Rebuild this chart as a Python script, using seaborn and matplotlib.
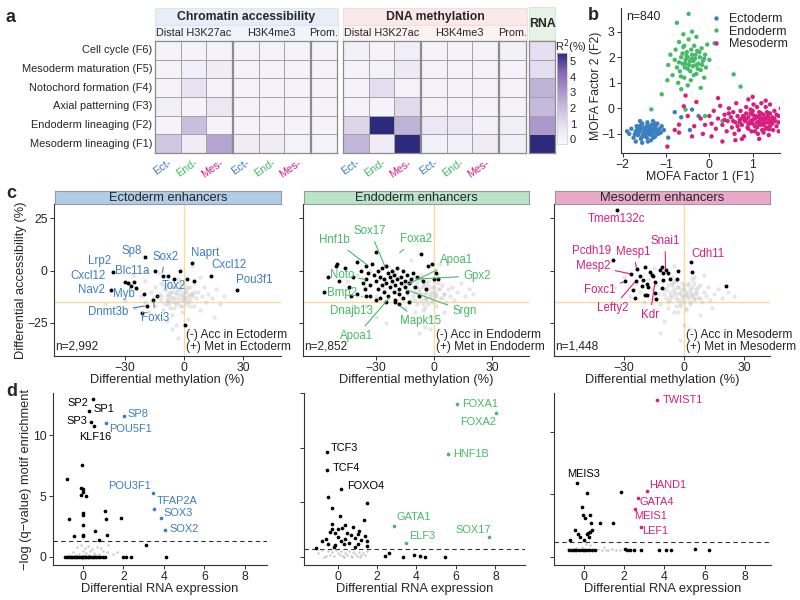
import numpy as np
import pandas as pd
import matplotlib
matplotlib.use("Agg")
import matplotlib.pyplot as plt
import seaborn as sns
from matplotlib.colors import LinearSegmentedColormap
from matplotlib.patches import Rectangle

sns.set_style("ticks")
plt.rcParams['font.family'] = ['Liberation Sans', 'DejaVu Sans']
plt.rcParams['axes.unicode_minus'] = True

ECT = '#3b7fc1'
END = '#45bb68'
MES = '#d81f7e'

# ---------------- panel a: variance explained (R2 %) ----------------
factors = ["Cell cycle (F6)", "Mesoderm maturation (F5)", "Notochord formation (F4)",
           "Axial patterning (F3)", "Endoderm lineaging (F2)", "Mesoderm lineaging (F1)"]
acc_r2 = [[0.05, 0.05, 0.05, 0.05, 0.05, 0.05, 0.05],
          [0.05, 0.3, 0.4, 0.05, 0.05, 0.05, 0.05],
          [0.05, 0.8, 0.05, 0.05, 0.05, 0.05, 0.05],
          [0.3, 0.05, 0.6, 0.05, 0.05, 0.05, 0.05],
          [0.05, 2.0, 0.05, 0.05, 0.05, 0.05, 0.05],
          [1.7, 0.4, 2.7, 0.4, 0.4, 0.1, 0.1]]
met_r2 = [[0.2, 0.05, 0.3, 0.05, 0.05, 0.05, 0.2],
          [0.05, 0.15, 0.5, 0.05, 0.05, 0.05, 0.05],
          [0.05, 1.0, 0.05, 0.05, 0.05, 0.05, 0.05],
          [0.05, 0.05, 1.1, 0.05, 0.05, 0.05, 0.05],
          [1.2, 5.5, 2.3, 0.6, 0.6, 0.2, 0.3],
          [2.2, 0.4, 5.5, 0.2, 0.2, 0.4, 0.3]]
rna_r2 = [0.9, 1.0, 2.3, 2.1, 3.0, 5.5]
lineage_short = ["Ect-", "End-", "Mes-"]

# ---------------- panel b: MOFA factors ----------------
b_ect_x = [-1.85, -1.8, -1.75, -1.7, -1.68, -1.65, -1.6, -1.58, -1.55, -1.52, -1.5, -1.48, -1.45, -1.43,
           -1.4, -1.38, -1.35, -1.33, -1.3, -1.28, -1.25, -1.22, -1.2, -1.18, -1.15, -1.12, -1.1, -1.55,
           -1.7, -1.9, -1.42, -1.3, -1.05, -0.95, -0.65, -0.4, -0.45, -0.25, -0.8, -1.6,
           -1.62, -1.57, -1.53, -1.47, -1.44, -1.41, -1.37, -1.34, -1.31, -1.27, -1.24, -1.21, -1.5,
           -1.46, -1.39, -1.36, -1.66, -1.72, -1.29, -1.19, -1.56, -1.43, -1.6, -1.33, -1.26]
b_ect_y = [-1.0, -0.8, -1.15, -0.9, -0.7, -1.05, -0.85, -1.2, -0.6, -0.95, -0.75, -1.1, -0.9, -0.55,
           -1.0, -0.8, -1.25, -0.65, -0.95, -0.75, -1.1, -0.85, -0.6, -1.0, -0.8, -0.95, -0.7, -1.35,
           -1.3, -0.9, -1.3, -0.5, -0.85, -1.15, -0.35, -0.05, -0.85, -0.3, -0.15, -0.5,
           -0.95, -0.78, -1.05, -0.82, -1.15, -0.7, -0.92, -1.05, -0.82, -0.9, -0.7, -1.0, -0.88,
           -0.98, -0.86, -0.75, -0.8, -1.02, -1.15, -0.88, -1.12, -0.65, -0.68, -0.95, -0.6]
b_end_x = [-0.85, -0.8, -0.78, -0.75, -0.72, -0.7, -0.68, -0.65, -0.62, -0.6, -0.58, -0.55, -0.52, -0.5,
           -0.48, -0.45, -0.43, -0.4, -0.38, -0.35, -0.33, -0.3, -0.28, -0.25, -0.22, -0.2, -0.18, -0.15,
           -0.12, -0.1, -0.08, -0.05, 0.0, -0.9, -0.95, -0.6, -0.4, -0.3, -0.5, -0.2, -0.75, -0.48, 0.12,
           0.56, 0.72, -0.97, -1.34, -0.55, -0.1, 0.3, -1.1, -0.65,
           -0.7, -0.62, -0.57, -0.53, -0.47, -0.42, -0.37, -0.32, -0.27, -0.23, -0.44, -0.58, -0.36,
           -0.66, -0.17, -0.5, -0.4, -0.3, -0.55, -0.12]
b_end_y = [1.3, 1.9, 2.3, 1.6, 1.0, 2.6, 1.45, 2.0, 1.75, 2.4, 1.2, 1.9, 2.2, 1.55,
           2.7, 1.85, 1.1, 2.1, 1.65, 2.45, 1.95, 1.35, 2.25, 1.75, 2.0, 1.5, 2.35, 1.85,
           1.2, 2.1, 1.6, 2.5, 1.9, 2.1, 1.7, 2.9, 3.0, 2.8, 0.9, 0.8, 3.35, 3.7, 2.55,
           1.33, 0.85, 1.1, -0.04, -0.05, -0.3, -0.5, 0.55, 0.75,
           1.8, 2.15, 1.6, 2.05, 1.7, 2.3, 1.85, 2.1, 1.55, 2.2, 1.45, 2.45, 1.3,
           1.25, 1.7, 2.0, 1.95, 1.7, 1.75, 1.95]
b_mes_x = [0.0, 0.05, 0.1, 0.15, 0.2, 0.25, 0.3, 0.35, 0.4, 0.42, 0.45, 0.5, 0.52, 0.55, 0.58, 0.6,
           0.62, 0.65, 0.68, 0.7, 0.72, 0.75, 0.78, 0.8, 0.82, 0.85, 0.88, 0.9, 0.92, 0.95, 0.97, 1.0,
           1.02, 1.05, 1.07, 1.1, 1.12, 1.15, 1.17, 1.2, 1.22, 1.25, 1.27, 1.3, 1.32, 1.35, 1.37, 1.4,
           1.42, 1.45, 1.47, 1.5, 1.52, 1.55, 1.6, 1.65, 1.3, 0.9, 1.15, 0.75, 1.0, 1.6, 1.2, 0.3,
           -0.2, -0.35, -0.5, -0.7, -0.59, -0.97, -0.8, -0.4, -0.15, 0.05, -0.55, -0.3, -0.7, 0.2,
           -0.1, 1.4, 0.95, 1.25, 0.6, 1.1, 0.85,
           0.95, 1.0, 1.05, 1.1, 1.15, 1.2, 1.25, 1.3, 1.35, 1.4, 1.45, 1.5, 0.85, 0.9, 0.8, 1.0,
           1.1, 1.2, 1.3, 1.4, 1.55, 1.6, 0.7, 0.75, 0.65, 1.05, 1.15, 1.25, 1.35, 1.45, 0.9, 1.0,
           1.12, 1.28, 1.38, 0.55, 0.45, 0.35, 1.18, 1.33]
b_mes_y = [-0.3, -0.6, -0.1, -0.8, -0.4, 0.1, -0.65, -0.25, -0.9, -0.5, 0.0, -0.35, -0.75, -0.15, -1.0, -0.55,
           0.2, -0.3, -0.85, -0.45, -0.1, -0.65, -0.3, -1.1, -0.5, 0.05, -0.75, -0.35, -0.6, -0.2, -0.9, -0.45,
           0.15, -0.7, -0.3, -0.55, -1.0, -0.15, -0.65, -0.4, -0.85, -0.25, -0.55, 0.05, -0.75, -0.4, -1.05, -0.2,
           -0.6, -0.35, -0.85, -0.1, -0.5, -0.7, -0.3, 0.0, 0.3, 0.35, -1.2, -1.2, 0.45, -0.9, 0.2, -1.3,
           -0.4, -0.7, -0.3, -0.64, 0.08, -1.5, -0.85, -1.1, -1.0, -1.1, 0.5, 0.25, -0.95, 0.4,
           -0.65, 0.15, -0.05, -0.95, -1.25, 0.05, -0.2,
           -0.5, -0.6, -0.4, -0.35, -0.5, -0.6, -0.45, -0.55, -0.3, -0.5, -0.6, -0.4, -0.45, -0.6, -0.35, -0.25,
           -0.75, -0.2, -0.8, -0.7, -0.25, -0.55, -0.55, -0.4, -0.7, -0.9, -0.3, -0.65, -0.55, -0.45, -0.8, -0.1,
           -0.58, -0.38, -0.82, -0.5, -0.2, -0.45, -0.42, -0.15]

# ---------------- panel c: enhancer accessibility vs methylation ----------------
c_ect_gray_x = [-35, -30, -28, -25, -24, -22, -20, -20, -18, -17, -16, -15, -15, -14, -13, -12, -12, -11, -10, -10,
                -9, -9, -8, -8, -7, -7, -6, -6, -5, -5, -4, -4, -3, -3, -2, -2, -1, -1, 0, 0,
                1, 1, 2, 2, 3, 3, 4, 5, 5, 6, 7, 8, 9, 10, 11, 12, 14, 16, 18, 20,
                -26, -19, -13, -6, 2, 8, -40, -3, 4, 15,
                -12, -10, -8, -7, -6, -5, -4, -3, -2, -1, 0, 1, 2, 3, -9, -6, -4, -1, 1, 4,
                -11, -7, -3, 0, 3, -5, -2, 2, -8, 5]
c_ect_gray_y = [-10, -14, -6, -18, -9, -12, -15, -5, -20, -10, -13, -8, -17, -22, -11, -14, -6, -19, -9, -16,
                -12, -24, -7, -14, -18, -10, -13, -21, -8, -15, -11, -26, -13, -4, -17, -9, -12, -20, -14, -7,
                -10, -16, -12, -23, -8, -14, -11, -17, -6, -13, -10, -19, -12, -8, -15, -11, -13, -9, -16, -12,
                -2, 0, -1, -28, -30, -3, -16, -32, 2, -22,
                -12, -9, -11, -15, -10, -13, -16, -9, -11, -14, -12, -9, -15, -11, -14, -8, -10, -17, -13, -12,
                -7, -12, -15, -10, -17, -18, -6, -8, -16, -10]
c_ect_x = [-19.8, -35.9, -14.7, -11, -8.5, -5.1, -2, 3.7, 13.5, 4.9, 1.4, 26.8, -30, -28.6, -25.7, -27,
           -24.7, -37.2, -20.3, -19, -21.2, 0.5, -15.6, -14]
c_ect_y = [6.4, -0.8, 0, -2.4, -2.4, -4, -0.1, 3.8, -2.4, -4.8, -4.1, -9.2, -5.4, -6, -5.4, -7.3,
           -8.4, -9.2, -11.2, -16.8, -20.3, -26.2, -14, -12]
c_ect_genes = ["Sp8", "Lrp2", "Cxcl12", "Blc11a", "Sox2", "Nav2", "Myb", "Tox2", "Dnmt3b", "Foxi3",
               "Naprt", "Cxcl12", "Pou3f1"]
c_ect_lab_x = [-26.6, -42.7, -48.6, -26.6, -9.6, -47.2, -30.8, -5.4, -38.4, -14.7, 10.7, 22.5, 35.2]
c_ect_lab_y = [9.5, 4.6, -2.4, 0, 6.7, -9.2, -11.2, -7.6, -20, -22.7, 8.6, 2.7, -4.4]
c_ect_tip_x = [np.nan, np.nan, np.nan, np.nan, -11.2, np.nan, np.nan, -13.5, -19.5, -15.6, np.nan, np.nan, np.nan]
c_ect_tip_y = [np.nan, np.nan, np.nan, np.nan, -1.5, np.nan, np.nan, -12.5, -16.8, -14, np.nan, np.nan, np.nan]

c_end_gray_x = [-45, -40, -36, -33, -30, -28, -26, -24, -22, -20, -19, -18, -17, -16, -15, -14, -13, -12, -11, -10,
                -10, -9, -9, -8, -8, -7, -7, -6, -6, -5, -5, -4, -4, -3, -3, -2, -2, -1, -1, 0,
                0, 1, 1, 2, 3, 4, 5, 6, 7, 8, 9, 10, 12, 14, 16, 18, 20, -25, -15, -5,
                5, -35, -12, -2, 3, -20, -8, 2, 11, -30,
                -14, -12, -11, -9, -8, -7, -6, -5, -4, -3, -2, 0, 1, 2, -13, -10, -6, -3, -1, 3,
                -15, -8, -4, 0, 4, -11, -5, -1, -7, 5]
c_end_gray_y = [-5, -2, -8, 0, -12, -4, -9, 2, -6, -15, -10, -3, -13, -7, -18, -11, -5, -14, -8, -20,
                -10, -6, -16, -9, -12, -4, -14, -8, -19, -11, -6, -13, -9, -16, -7, -11, -22, -8, -14, -10,
                -5, -12, -17, -9, -13, -7, -11, -15, -9, -12, -8, -14, -10, -6, -12, -9, -11, -25, -24, -27,
                -20, -17, 5, -28, 3, -1, -30, -2, -18, -22,
                -9, -6, -12, -8, -10, -11, -7, -13, -10, -9, -12, -8, -11, -6, -15, -14, -16, -5, -10, -9,
                -7, -4, -14, -12, -13, -3, -18, -15, -2, -11]
c_end_x = [-57, -55, -51, -50, -49, -46, -44, -42, -40, -40, -38, -37, -36, -35, -35, -34, -33, -33, -32, -31,
           -30, -30, -29, -29, -28, -28, -27, -27, -26, -26, -25, -25, -24, -24, -23, -23, -22, -22, -21, -21,
           -20, -20, -19, -19, -18, -18, -17, -17, -16, -16, -15, -15, -14, -14, -13, -13, -12, -11, -10, -9,
           -8, -7, -6, -4, -3, -1, 0, 1, 2, -30, -25, -20, -18, -35, -43]
c_end_y = [-10, -3, 2, 3, -5, 1, -8, -3, 4, -11, 0, -6, -9, 2, -4, -1, -7, -12, 3, -2,
           9, -5, -9, 0, -3, -13, 1, -7, -4, -10, 2, -6, -1, -12, -3, -8, 0, -5, -10, -2,
           -14, -7, -4, 1, -9, -11, -3, -6, -13, 0, -8, -5, -2, -10, -15, -6, -4, -1, -8, -3,
           -12, 8, -5, -9, 2, 3, -4, -1, -4, -14, -15, -15, -16, -12, -12]
c_end_genes = ["Hnf1b", "Sox17", "Foxa2", "Apoa1", "Gpx2", "Noto", "Bmp2", "Dnajb13", "Apoa1", "Srgn", "Mapk15"]
c_end_lab_x = [-51.5, -33.1, -9.3, 11.7, 22.1, -47.7, -47.7, -42.9, -40.3, 15.7, -7.2]
c_end_lab_y = [14.6, 18.9, 15.0, 5.1, -2.5, -2.0, -10.8, -19.5, -31.4, -19.5, -24.3]
c_end_tip_x = [-34.1, -25.1, -18.4, -14.1, -10.2, -35, -37, np.nan, -22.7, -14.1, -18.4]
c_end_tip_y = [2.3, 1.2, 8.1, -6.8, -4.1, -4.4, -12.5, np.nan, -12.5, -9.2, -16.4]

c_mes_gray_x = [-35, -30, -27, -24, -22, -20, -18, -16, -15, -14, -13, -12, -11, -10, -9, -8, -8, -7, -7, -6,
                -6, -5, -5, -4, -4, -3, -3, -2, -2, -1, -1, 0, 0, 1, 1, 2, 2, 3, 3, 4,
                4, 5, 5, 6, 6, 7, 8, 9, 10, 11, 12, 13, 15, 17, 19, 22, 25, -20, -10, 0,
                8, -28, -5, 5, 14, -15, 3, -12, 10, -2,
                -9, -7, -6, -5, -4, -3, -2, -1, 0, 1, 2, 3, 4, 5, -8, -5, -2, 0, 2, 6,
                -10, -4, -1, 3, 7, -6, 1, 4, -3, 8]
c_mes_gray_y = [-8, -3, -12, -6, -10, -15, -4, -9, -13, -7, -11, -16, -5, -9, -13, -7, -18, -10, -14, -6,
                -12, -9, -20, -11, -5, -14, -8, -17, -10, -12, -6, -15, -9, -11, -19, -7, -13, -10, -16, -8,
                -12, -6, -14, -11, -9, -13, -7, -15, -10, -12, -8, -14, -11, -9, -13, -10, -12, -22, -24, -26,
                -21, -1, 2, -3, -18, 1, -28, -30, -2, -33,
                -9, -12, -7, -10, -13, -8, -11, -14, -7, -10, -12, -9, -11, -13, -15, -5, -16, -12, -6, -10,
                -11, -17, -9, -15, -8, -3, -18, -4, -20, -13]
c_mes_x = [-33.3, -35.7, -26.7, -23.7, -29.5, -24, -14.5, -9.2, 3.5, 3.8, 21, -3.2, -19.5, -17, -16.2,
           -15.3, -12, -11.2, -10.7, -7.8, -7, -10.3, -20.3, -18.7, -17.8, -21.2, -25.3, -24.5, -19.5,
           -18.7, -14.5, -14, -3.7, -11.2, -22]
c_mes_y = [28.9, 5.1, -1.6, 0.8, -5.2, -4.8, -5.6, 0.3, 3.9, -0.6, -7.6, -0.1, 1.6, -0.9, -2,
           -2.8, 0.3, 1.6, -1.2, -1.2, -4, -4.4, -4.4, -6.3, -7.9, -7.6, -9.2, -13.2, -11.6,
           -11.6, -10.8, -13.7, -4, -8.4, -2.8]
c_mes_genes = ["Tmem132c", "Pcdh19", "Mesp1", "Mesp2", "Snai1", "Cdh11", "Foxc1", "Lefty2", "Kdr"]
c_mes_lab_x = [-33.7, -46.2, -25.3, -45.3, -9.5, 12.2, -42, -35.7, -17]
c_mes_lab_y = [24.5, 9.5, 9.0, 2.2, 14.1, 7.9, -9.2, -17.9, -21.4]
c_mes_tip_x = [np.nan, np.nan, -23.7, -26.7, -9.2, np.nan, -29.5, -24, -14.5]
c_mes_tip_y = [np.nan, np.nan, 0.8, -1.6, 0.3, np.nan, -5.2, -4.8, -5.6]

c_counts = ["n=2,992", "n=2,852", "n=1,448"]

# ---------------- panel d: motif enrichment vs RNA ----------------
d_ect_x = [0.51, 0.3, 0.38, 0.56, -0.07, -0.8, -0.1, 0.0, 0.02, -0.1, 0.16, 1.09, 1.14, 1.9, 0.02, 0.02,
           -0.7, 0.0, 0.6, 0.0, 0.02, 1.2, -0.45, 0.77, 3.1, 2.0, 2.15, 2.4, 4.1,
           -0.9, -0.78, -0.7, -0.6, -0.52, -0.45, -0.35, -0.3, -0.2, -0.12, -0.05, 0.02, 0.1, 0.15,
           0.25, 0.32, 0.4, 0.5, 0.55, 0.65, 0.75, 0.85, 1.0, 1.1]
d_ect_y = [13.0, 12.0, 11.1, 10.8, 7.6, 6.4, 5.7, 5.6, 5.3, 5.1, 5.0, 3.8, 3.1, 3.2, 3.6, 3.4,
           3.1, 2.6, 2.1, 1.8, 1.7, 1.8, 1.7, 1.4, 1.0, 0, 0, 0, 0,
           0, 0, 0, 0, 0, 0, 0, 0, 0, 0, 0, 0, 0, 0,
           0, 0, 0, 0, 0, 0, 0, 0, 0, 0]
d_ect_gray_x = [-0.5, -0.3, -0.2, -0.1, 0.0, 0.1, 0.15, 0.25, 0.3, 0.45, 0.55, 0.7, 0.8, 1.0, 1.2, 1.25,
                1.5, 1.7, -0.7, 0.6, 0.35, -0.4, 0.9, 0.05]
d_ect_gray_y = [0.4, 0.8, 0.2, 1.0, 0.5, 0.7, 0.3, 0.9, 0.15, 0.6, 0.3, 0.8, 0.2, 0.5, 0.4, 1.0,
                0.25, 0.35, 0.1, 0.1, 0.45, 0.15, 0.7, 0.1]
d_ect_tf = ["SP8", "POU5F1", "POU3F1", "TFAP2A", "SOX3", "SOX2"]
d_ect_tf_x = [2.02, 1.14, 3.47, 3.5, 3.84, 4.08]
d_ect_tf_y = [11.6, 11.0, 5.24, 3.94, 3.17, 2.2]
d_ect_tf_lx = [2.2, 1.28, 3.38, 3.64, 4.0, 4.28]
d_ect_tf_ly = [11.75, 10.5, 5.8, 4.6, 3.6, 2.3]
d_ect_other = ["SP2", "SP1", "SP3", "KLF16"]
d_ect_other_lx = [0.25, 0.5, 0.2, 0.6]
d_ect_other_ly = [12.7, 12.15, 11.2, 9.9]

d_end_x = [-0.53, -0.53, 0.2, -0.46, -0.3, 1.47, 0.12, 1.33, -0.3, 0.37, 0.8, -0.3, -0.4, -0.13, 0.03,
           0.5, 1.05, 1.39, -0.8, -0.46, -0.12, 0.15, 0.6, 1.05, 1.47, -1.1, 0.33, 0.87, 2.4, 2.6,
           3.33, 3.86, 4.2, 4.45, 5.43, -0.6, 0.0, 0.4, 0.7, 1.2, 1.5, -0.2, 0.9, 0.25, 1.1]
d_end_y = [9.55, 7.95, 6.2, 5.5, 4.5, 4.9, 3.7, 3.4, 3.0, 2.9, 2.7, 2.5, 2.3, 2.2, 2.5,
           2.2, 2.1, 1.9, 1.4, 1.2, 1.1, 1.4, 1.3, 1.2, 1.0, 0.8, 1.2, 0.9, 0.05, 0.3,
           0, 0.2, 0.1, 0, 0, 1.6, 1.8, 1.6, 2.0, 1.5, 1.4, 0.9, 1.7, 2.6, 2.4]
d_end_gray_x = [-1.0, -0.8, -0.6, -0.5, -0.4, -0.3, -0.2, -0.1, 0.0, 0.1, 0.2, 0.3, 0.4, 0.5, 0.6, 0.7,
                0.8, 0.9, 1.0, 1.1, 1.2, 1.3, 1.4, 1.5, -0.7, 0.35, 0.75, 1.15]
d_end_gray_y = [0.3, 0.6, 0.1, 0.5, 0.2, 0.4, 0.05, 0.6, 0.3, 0.15, 0.5, 0.1, 0.35, 0.2, 0.55, 0.1,
                0.4, 0.25, 0.05, 0.45, 0.2, 0.3, 0.15, 0.5, 0.0, 0.0, 0.0, 0.0]
d_end_tf = ["FOXA1", "FOXA2", "HNF1B", "GATA1", "ELF3", "SOX17"]
d_end_tf_x = [6.07, 8.05, 5.6, 2.85, 3.46, 7.68]
d_end_tf_y = [14.0, 13.2, 9.4, 2.85, 1.3, 1.84]
d_end_tf_lx = [6.33, 7.1, 5.85, 2.99, 3.63, 6.9]
d_end_tf_ly = [14.0, 12.3, 9.4, 3.6, 1.93, 2.45]
d_end_other = ["TCF3", "TCF4", "FOXO4"]
d_end_other_lx = [-0.34, -0.22, 0.5]
d_end_other_ly = [9.99, 8.1, 6.5]

d_mes_x = [1.82, 0.17, -0.12, -0.06, 0.05, 0.3, 0.33, 0.8, 1.45, -0.45, -0.28, -0.2, 0.13, 0.22, 0.3,
           0.38, 0.27, -0.67, 0.0, 2.03, 2.12, 2.28, 2.48, 2.86, 3.73, 4.1, 4.35, 5.5, 6.2, -0.33,
           -0.75, -0.6, -0.5, -0.4, -0.25, -0.1, 0.0, 0.1, 0.25, 0.4, 0.55]
d_mes_y = [5.2, 5.1, 4.0, 3.3, 3.1, 3.3, 2.7, 2.7, 2.7, 2.1, 1.8, 1.6, 1.8, 1.9, 2.0,
           2.1, 1.6, 1.3, 1.3, 0.6, 0.5, 0.5, 0.5, 0.5, 0.5, 0.5, 0.5, 0.65, 0.5, 5.9,
           0.5, 0.5, 0.5, 0.5, 0.5, 0.5, 0.5, 0.5, 0.5, 0.5, 0.5]
d_mes_gray_x = [-0.8, -0.6, -0.4, -0.3, -0.1, 0.0, 0.2, 0.3, 0.5, 0.7, 0.9, 1.0, 1.2, 1.4, 1.6, 1.8,
                0.1, -0.2, 0.6, 1.1]
d_mes_gray_y = [0.6, 0.5, 0.7, 0.55, 0.8, 0.5, 0.6, 0.9, 0.5, 0.65, 0.55, 0.8, 0.5, 0.6, 0.55, 0.5,
                1.0, 0.5, 0.5, 0.5]
d_mes_tf = ["TWIST1", "HAND1", "GATA4", "MEIS1", "LEF1"]
d_mes_tf_x = [3.64, 3.14, 2.68, 2.56, 2.84]
d_mes_tf_y = [12.5, 5.24, 4.7, 3.8, 2.4]
d_mes_tf_lx = [3.9, 3.24, 2.75, 2.48, 2.9]
d_mes_tf_ly = [12.5, 5.75, 4.35, 3.28, 2.07]
d_mes_other = ["MEIS3"]
d_mes_other_lx = [-0.03]
d_mes_other_ly = [6.6]

d_cutoff = [1.3, 0.68, 1.16]

# =====================================================================
fig = plt.figure(figsize=(8, 6), dpi=100)


def px_axes(x0, x1, y0, y1):
    return fig.add_axes([x0 / 800, 1 - y1 / 600, (x1 - x0) / 800, (y1 - y0) / 600])


def px_text(x, y, s, **kw):
    fig.text(x / 800, 1 - y / 600, s, **kw)


def px_box(x0, x1, y0, y1, fc, ec):
    fig.add_artist(Rectangle((x0 / 800, 1 - y1 / 600), (x1 - x0) / 800, (y1 - y0) / 600,
                             transform=fig.transFigure, fc=fc, ec=ec, lw=0.8, zorder=0))


def style_spines(ax):
    for side in ["left", "bottom"]:
        ax.spines[side].set_color("#333333")
        ax.spines[side].set_linewidth(0.8)
    ax.tick_params(length=3, width=0.7, color="#333333", labelsize=8.8, pad=1.5)


# ---- panel a ----
r2_cmap = LinearSegmentedColormap.from_list(
    "r2", ["#fbfbfd", "#e6e1f1", "#c8bddd", "#a791c9", "#8466b1", "#2c2a7b"])
acc_arr = np.array(acc_r2)
met_arr = np.array(met_r2)
rna_arr = np.array(rna_r2).reshape(-1, 1)
lin_cols = [ECT, END, MES]

px_box(155, 338, 8, 25, "#e8eef8", "#dfe5ee")
px_box(155, 338, 25, 41, "#f1f4fa", "#dfe5ee")
px_box(343, 527, 8, 25, "#fbe9ea", "#f1dfe0")
px_box(343, 527, 25, 41, "#fdf2f2", "#f1dfe0")
px_box(529, 555, 7, 40, "#e4f3e5", "#d7e8d8")
px_text(246, 17, "Chromatin accessibility", ha="center", va="center", fontsize=8.8, fontweight="bold")
px_text(435, 17, "DNA methylation", ha="center", va="center", fontsize=8.8, fontweight="bold")
px_text(542, 24, "RNA", ha="center", va="center", fontsize=8.8, fontweight="bold")

blocks = [(155, 232, acc_arr[:, 0:3], "Distal H3K27ac"), (233, 310, acc_arr[:, 3:6], "H3K4me3"),
          (311, 337, acc_arr[:, 6:7], "Prom."), (343, 420, met_arr[:, 0:3], "Distal H3K27ac"),
          (421, 498, met_arr[:, 3:6], "H3K4me3"), (499, 526, met_arr[:, 6:7], "Prom."),
          (529, 555, rna_arr, None)]
for i, (x0, x1, vals, sub) in enumerate(blocks):
    ax = px_axes(x0, x1, 41, 153)
    sns.heatmap(vals, ax=ax, cmap=r2_cmap, vmin=-0.3, vmax=5.5, cbar=False, linewidths=0.7,
                linecolor="#a3a3a3", xticklabels=False, yticklabels=factors if i == 0 else False)
    for s in ax.spines.values():
        s.set_visible(True)
        s.set_color("#8c8c8c")
        s.set_linewidth(0.9)
    if i == 0:
        ax.set_yticklabels(factors, rotation=0, fontsize=7.9)
        ax.tick_params(axis="y", length=0, pad=2)
    if sub is not None:
        px_text((x0 + x1) / 2, 33, sub, ha="center", va="center", fontsize=7.8)
    if vals.shape[1] == 3:
        for j in range(3):
            ax.text(j + 0.72, 6.25, lineage_short[j], rotation=35, ha="right", va="top",
                    color=lin_cols[j], fontsize=7.8)
    last_heat = ax

cax = px_axes(557, 567, 53, 144)
cb = fig.colorbar(last_heat.collections[0], cax=cax)
cb.set_ticks(range(6))
cb.outline.set_edgecolor("#cccccc")
cb.outline.set_linewidth(0.5)
cax.tick_params(length=0, labelsize=8, pad=2)
px_text(555, 47, "R$^2$(%)", ha="left", va="center", fontsize=8)

# ---- panel b ----
axb = px_axes(621, 780, 8, 153)
df_b = pd.DataFrame({
    "f1": b_ect_x + b_end_x + b_mes_x,
    "f2": b_ect_y + b_end_y + b_mes_y,
    "lineage": ["Ectoderm"] * len(b_ect_x) + ["Endoderm"] * len(b_end_x) + ["Mesoderm"] * len(b_mes_x),
})
sns.scatterplot(data=df_b, x="f1", y="f2", hue="lineage", palette=[ECT, END, MES], s=10,
                linewidth=0, ax=axb)
axb.set_xlim(-2.04, 1.63)
axb.set_ylim(-1.75, 3.93)
axb.set_xticks([-2, -1, 0, 1])
axb.set_yticks([-1, 0, 1, 2, 3])
axb.set_xlabel("MOFA Factor 1 (F1)", fontsize=8.8, labelpad=0)
axb.set_ylabel("MOFA Factor 2 (F2)", fontsize=8.8, labelpad=0)
axb.yaxis.set_label_coords(-0.12, 0.46)
sns.despine(ax=axb)
style_spines(axb)
axb.legend(loc="upper right", bbox_to_anchor=(1.08, 1.0), frameon=False, fontsize=9,
           handletextpad=0.0, labelspacing=0.05, borderaxespad=0, markerscale=1.0)
axb.text(0.03, 0.98, "n=840", transform=axb.transAxes, ha="left", va="top", fontsize=8.8)

# ---- panel c ----
c_specs = [
    (54, 281, (-66, 49), c_ect_gray_x, c_ect_gray_y, c_ect_x, c_ect_y, c_ect_genes, c_ect_lab_x,
     c_ect_lab_y, c_ect_tip_x, c_ect_tip_y, ECT, "#b1cce6", "Ectoderm"),
    (303, 529, (-67.8, 49), c_end_gray_x, c_end_gray_y, c_end_x, c_end_y, c_end_genes, c_end_lab_x,
     c_end_lab_y, c_end_tip_x, c_end_tip_y, END, "#b9e4c9", "Endoderm"),
    (554, 770, (-65, 43), c_mes_gray_x, c_mes_gray_y, c_mes_x, c_mes_y, c_mes_genes, c_mes_lab_x,
     c_mes_lab_y, c_mes_tip_x, c_mes_tip_y, MES, "#eaa9c9", "Mesoderm"),
]
for k, (x0, x1, xl, gx, gy, bx, by, genes, lx, ly, tx, ty, col, stripc, lin) in enumerate(c_specs):
    ax = px_axes(x0, x1, 204.3, 355.7)
    ax.axvline(0, color="#fdd9a0", lw=1, zorder=0)
    ax.axhline(-15, color="#fdd9a0", lw=1, zorder=0)
    sns.scatterplot(x=gx, y=gy, color="#bdbdbd", alpha=0.35, s=10, linewidth=0, ax=ax)
    sns.scatterplot(x=bx, y=by, color="black", s=8, linewidth=0, ax=ax)
    for g, a, b, c, d in zip(genes, lx, ly, tx, ty):
        if np.isnan(c):
            ax.text(a, b, g, color=col, fontsize=8.3, ha="center", va="center")
        else:
            ax.annotate(g, xy=(c, d), xytext=(a, b), color=col, fontsize=8.3, ha="center", va="center",
                        arrowprops=dict(arrowstyle="-", color=col, lw=0.8, shrinkA=1, shrinkB=1))
    ax.set_xlim(*xl)
    ax.set_ylim(-40.7, 31.7)
    ax.set_xticks([-30, 0, 30])
    ax.set_yticks([-25, 0, 25])
    ax.text(1, -30.6, "(-) Acc in " + lin, fontsize=8.6, ha="left", va="center")
    ax.text(1, -36.4, "(+) Met in " + lin, fontsize=8.6, ha="left", va="center")
    ax.text(0.005, 0.02, c_counts[k], transform=ax.transAxes, fontsize=8.6, ha="left", va="bottom")
    ax.set_xlabel("Differential methylation (%)", fontsize=9.3, labelpad=0)
    if k == 0:
        ax.set_ylabel("Differential accessibility (%)", fontsize=9.3, labelpad=0)
    else:
        ax.set_yticklabels([])
    sns.despine(ax=ax)
    style_spines(ax)
    sax = px_axes(x0 + 1, x1, 190.7, 204.3)
    sax.set_facecolor(stripc)
    sax.set_xticks([])
    sax.set_yticks([])
    for s in sax.spines.values():
        s.set_color("#9a9a9a")
        s.set_linewidth(0.8)
    sax.text(0.5, 0.45, lin + " enhancers", ha="center", va="center", fontsize=9.3, transform=sax.transAxes)

# ---- panel d ----
d_specs = [
    (53, 267, (-1.48, 9.1), (-0.69, 13.5), [0, 5, 10], d_ect_gray_x, d_ect_gray_y, d_ect_x, d_ect_y,
     d_ect_tf, d_ect_tf_x, d_ect_tf_y, d_ect_tf_lx, d_ect_tf_ly, d_ect_other, d_ect_other_lx,
     d_ect_other_ly, ECT, ["right", "left", "right", "center"], ["left", "left", "right", "left", "left", "left"]),
    (304, 525, (-1.7, 9.5), (-0.76, 15.0), [0, 5, 10, 15], d_end_gray_x, d_end_gray_y, d_end_x, d_end_y,
     d_end_tf, d_end_tf_x, d_end_tf_y, d_end_tf_lx, d_end_tf_ly, d_end_other, d_end_other_lx,
     d_end_other_ly, END, ["left", "left", "left"], ["left", "center", "left", "left", "left", "center"]),
    (554, 771, (-1.49, 9.3), (-0.67, 13.1), [0, 5, 10], d_mes_gray_x, d_mes_gray_y, d_mes_x, d_mes_y,
     d_mes_tf, d_mes_tf_x, d_mes_tf_y, d_mes_tf_lx, d_mes_tf_ly, d_mes_other, d_mes_other_lx,
     d_mes_other_ly, MES, ["center"], ["left", "left", "left", "left", "left"]),
]
for k, (x0, x1, xl, yl, yt, gx, gy, bx, by, tf, tfx, tfy, tflx, tfly, oth, olx, oly, col, oha, tha) in enumerate(d_specs):
    ax = px_axes(x0, x1, 393, 565)
    ax.axhline(d_cutoff[k], color="#333333", lw=0.8, ls=(0, (4, 3)), zorder=0)
    sns.scatterplot(x=gx, y=gy, color="#a8a8a8", alpha=0.6, s=3, linewidth=0, ax=ax)
    sns.scatterplot(x=bx, y=by, color="black", s=7, linewidth=0, ax=ax)
    sns.scatterplot(x=tfx, y=tfy, color=col, s=7, linewidth=0, ax=ax)
    for g, a, b, h in zip(tf, tflx, tfly, tha):
        ax.text(a, b, g, color=col, fontsize=7.9, ha=h, va="center")
    for g, a, b, h in zip(oth, olx, oly, oha):
        ax.text(a, b, g, color="black", fontsize=7.9, ha=h, va="center")
    ax.set_xlim(*xl)
    ax.set_ylim(*yl)
    ax.set_xticks([0, 2, 4, 6, 8])
    ax.set_yticks(yt)
    ax.set_xlabel("Differential RNA expression", fontsize=9.3, labelpad=0)
    if k == 0:
        ax.set_ylabel("\u2212log (q\u2212value) motif enrichment", fontsize=9.3, labelpad=1)
    else:
        ax.set_yticklabels([])
    sns.despine(ax=ax)
    style_spines(ax)

# panel letters
px_text(6, 17, "a", fontsize=13, fontweight="bold", va="center")
px_text(588, 15, "b", fontsize=13, fontweight="bold", va="center")
px_text(6, 193, "c", fontsize=13, fontweight="bold", va="center")
px_text(6, 392, "d", fontsize=13, fontweight="bold", va="center")

fig.savefig("out.png", dpi=100)
